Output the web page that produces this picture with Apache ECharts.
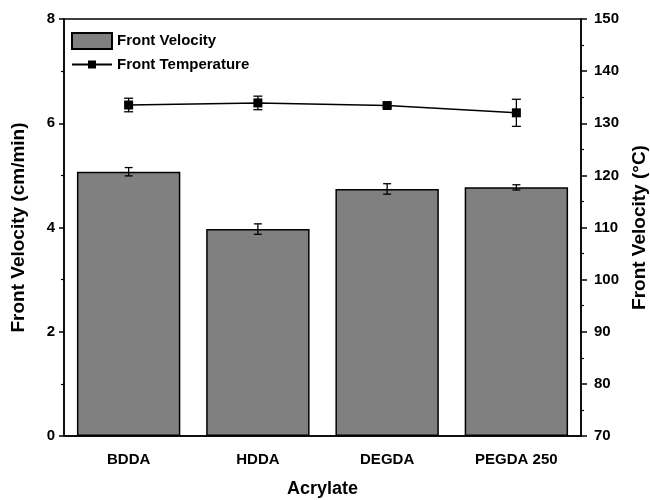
<!DOCTYPE html>
<html>
<head>
<meta charset="utf-8">
<script src="https://cdn.jsdelivr.net/npm/echarts@6/dist/echarts.min.js"></script>
<style>html,body{margin:0;padding:0;background:#fff}#c{width:650px;height:500px}</style>
</head>
<body>
<div id="c"></div>
<script>
const categories = ['BDDA', 'HDDA', 'DEGDA', 'PEGDA 250'];
const velocity = [5.07, 3.97, 4.74, 4.77];
const velocityErr = [0.08, 0.1, 0.1, 0.05];
const temperature = [133.5, 133.9, 133.4, 132.0];
const temperatureErr = [1.3, 1.3, 0.4, 2.6];

const FONT = '"Liberation Sans", Arial, sans-serif';

function errRender(capHalf) {
  return function (params, api) {
    const x = api.value(0);
    const p1 = api.coord([x, api.value(1)]);
    const p2 = api.coord([x, api.value(2)]);
    const st = { stroke: '#000', lineWidth: 1.3 };
    return {
      type: 'group',
      children: [
        { type: 'line', shape: { x1: p1[0], y1: p1[1], x2: p2[0], y2: p2[1] }, style: st },
        { type: 'line', shape: { x1: p1[0] - capHalf, y1: p1[1], x2: p1[0] + capHalf, y2: p1[1] }, style: st },
        { type: 'line', shape: { x1: p2[0] - capHalf, y1: p2[1], x2: p2[0] + capHalf, y2: p2[1] }, style: st }
      ]
    };
  };
}

const velErrData = categories.map((c, i) => [i, velocity[i] - velocityErr[i], velocity[i] + velocityErr[i]]);
const tempErrData = categories.map((c, i) => [i, temperature[i] - temperatureErr[i], temperature[i] + temperatureErr[i]]);

const legendText = { fontFamily: FONT, fontWeight: 'bold', fontSize: 15, color: '#000' };

const chart = echarts.init(document.getElementById('c'), null, { renderer: 'canvas' });
chart.setOption({
  animation: false,
  backgroundColor: '#fff',
  textStyle: { fontFamily: FONT },
  grid: { left: 64, right: 69, top: 19, bottom: 64, show: true, borderColor: '#000', borderWidth: 1.5, containLabel: false, outerBoundsMode: 'none' },
  legend: [
    {
      left: 66, top: 27, itemWidth: 40, itemHeight: 16, itemGap: 6,
      textStyle: legendText,
      data: [{ name: 'Front Velocity', icon: 'rect' }]
    },
    {
      left: 66, top: 52, itemWidth: 40, itemHeight: 10, itemGap: 6,
      textStyle: legendText,
      data: [{ name: 'Front Temperature' }]
    }
  ],
  xAxis: {
    type: 'category', data: categories,
    name: 'Acrylate', nameLocation: 'middle', nameGap: 44,
    nameTextStyle: { fontFamily: FONT, fontWeight: 'bold', fontSize: 18, color: '#000' },
    axisLine: { lineStyle: { color: '#000', width: 1.5 } },
    axisTick: { alignWithLabel: true, length: 5, lineStyle: { color: '#000', width: 1.5 } },
    axisLabel: { fontFamily: FONT, fontWeight: 'bold', fontSize: 15, color: '#000', margin: 16 },
    splitLine: { show: false }
  },
  yAxis: [
    {
      type: 'value', min: 0, max: 8, interval: 2,
      name: 'Front Velocity (cm/min)', nameLocation: 'middle', nameGap: 36,
      nameTextStyle: { fontFamily: FONT, fontWeight: 'bold', fontSize: 19, color: '#000' },
      axisLine: { show: true, lineStyle: { color: '#000', width: 1.5 } },
      axisTick: { show: true, length: 5, lineStyle: { color: '#000', width: 1.5 } },
      minorTick: { show: true, splitNumber: 2, length: 3, lineStyle: { color: '#000', width: 1.2 } },
      axisLabel: { fontFamily: FONT, fontWeight: 'bold', fontSize: 15, color: '#000', margin: 9 },
      splitLine: { show: false }
    },
    {
      type: 'value', min: 70, max: 150, interval: 10, position: 'right',
      name: 'Front Velocity (°C)', nameLocation: 'middle', nameGap: 47,
      nameTextStyle: { fontFamily: FONT, fontWeight: 'bold', fontSize: 19, color: '#000' },
      axisLine: { show: true, lineStyle: { color: '#000', width: 1.5 } },
      axisTick: { show: true, length: 6, lineStyle: { color: '#000', width: 1.5 } },
      minorTick: { show: true, splitNumber: 2, length: 3, lineStyle: { color: '#000', width: 1.2 } },
      axisLabel: { fontFamily: FONT, fontWeight: 'bold', fontSize: 15, color: '#000', margin: 13 },
      splitLine: { show: false }
    }
  ],
  series: [
    {
      name: 'Front Velocity', type: 'bar', data: velocity, barCategoryGap: '20%',
      itemStyle: { color: '#808080', borderColor: '#000', borderWidth: 1.5 },
      z: 2
    },
    {
      name: 'Front Temperature', type: 'line', yAxisIndex: 1, data: temperature,
      symbol: 'rect', symbolSize: 9,
      lineStyle: { color: '#000', width: 1.5 },
      itemStyle: { color: '#000' },
      z: 4
    },
    {
      type: 'custom', renderItem: errRender(4), data: velErrData, z: 5,
      encode: { x: 0, y: [1, 2] }, silent: true
    },
    {
      type: 'custom', yAxisIndex: 1, renderItem: errRender(4.5), data: tempErrData, z: 5,
      encode: { x: 0, y: [1, 2] }, silent: true
    }
  ]
});
</script>
</body>
</html>
